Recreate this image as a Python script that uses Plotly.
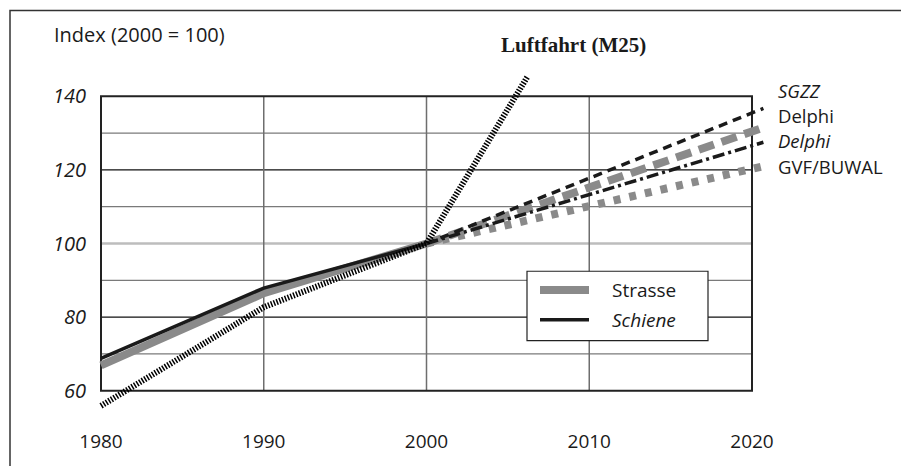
import plotly.graph_objects as go

# ---------------- data ----------------
hist_years = [1980, 1990, 2000]
strasse = [66.9, 86.5, 100]
schiene = [68.8, 87.9, 100]

luft_years = [1980, 1990, 2000, 2006.2]
luftfahrt = [55.9, 82.7, 100, 145.3]

fc_years = [2000, 2020.7]
sgzz_schiene = [100, 136.7]
delphi_strasse = [100, 131.5]
delphi_schiene = [100, 127.5]
gvf_strasse = [100, 121.0]

x_ticks = [1980, 1990, 2000, 2010, 2020]
y_ticks = [60, 80, 100, 120, 140]
grid_minor_y = [70, 90, 110, 130]
grid_major_y = [80, 120]
grid_x = [1990, 2000, 2010]

# ---------------- layout geometry ----------------
OFF = 8  # page body margin in the browser
FW, FH = 909 - OFF, 466 - OFF
ML, MR, MT, MB = 98 - OFF, 134, 69 - OFF, 52 - OFF
PW, PH = FW - ML - MR, FH - MT - MB
px_per_year = 16.275
px_per_unit = 3.7125
x0 = 1980 - (101 - OFF - ML) / px_per_year
x1 = x0 + PW / px_per_year
y1 = 140 + (96.5 - OFF - MT) / px_per_unit
y0 = y1 - PH / px_per_unit


def pxx(px):
    return (px - OFF - ML) / PW


def pxy(py):
    return (FH - MB - (py - OFF)) / PH


GRAY = "#8a8a8a"
BLACK = "#1a1a1a"
SANS = "Open Sans"

fig = go.Figure()

# Strasse (gray)
fig.add_trace(go.Scatter(x=hist_years, y=strasse, mode="lines", name="Strasse",
                         line=dict(color=GRAY, width=8), showlegend=False))
fig.add_trace(go.Scatter(x=fc_years, y=gvf_strasse, mode="lines", name="GVF/BUWAL",
                         line=dict(color=GRAY, width=8, dash="7px,9px"), showlegend=False))
fig.add_trace(go.Scatter(x=fc_years, y=delphi_strasse, mode="lines", name="Delphi",
                         line=dict(color=GRAY, width=8, dash="16px,8px"), showlegend=False))
# Schiene (black)
fig.add_trace(go.Scatter(x=hist_years, y=schiene, mode="lines", name="Schiene",
                         line=dict(color=BLACK, width=3.5), showlegend=False))
fig.add_trace(go.Scatter(x=fc_years, y=sgzz_schiene, mode="lines", name="SGZZ",
                         line=dict(color=BLACK, width=3.5, dash="9px,6px"), showlegend=False))
fig.add_trace(go.Scatter(x=fc_years, y=delphi_schiene, mode="lines", name="Delphi (Schiene)",
                         line=dict(color=BLACK, width=3.5, dash="12px,4px,3px,4px"), showlegend=False))
# Luftfahrt
fig.add_trace(go.Scatter(x=luft_years, y=luftfahrt, mode="lines", name="Luftfahrt (M25)",
                         line=dict(color="#000000", width=6, dash="1.5px,1.5px"), showlegend=False))

shapes = []
# gridlines
for v in grid_minor_y:
    shapes.append(dict(type="line", xref="x", yref="y", x0=1980, x1=2020, y0=v, y1=v,
                       line=dict(color="#7a7a7a", width=1.2), layer="below"))
for v in grid_major_y:
    shapes.append(dict(type="line", xref="x", yref="y", x0=1980, x1=2020, y0=v, y1=v,
                       line=dict(color="#111111", width=1.2), layer="below"))
shapes.append(dict(type="line", xref="x", yref="y", x0=1980, x1=2020, y0=100, y1=100,
                   line=dict(color="#bdbdbd", width=2.5), layer="below"))
for v in grid_x:
    shapes.append(dict(type="line", xref="x", yref="y", x0=v, x1=v, y0=60, y1=140,
                       line=dict(color="#6e6e6e", width=1.5), layer="below"))
# plot frame
shapes.append(dict(type="rect", xref="x", yref="y", x0=1980, x1=2020, y0=60, y1=140,
                   line=dict(color="#222222", width=2), layer="below"))
# outer frame
shapes.append(dict(type="rect", xref="paper", yref="paper",
                   x0=pxx(10), x1=pxx(902), y0=pxy(480), y1=pxy(10),
                   line=dict(color="#333333", width=1.5), layer="below"))
# legend box
shapes.append(dict(type="rect", xref="paper", yref="paper",
                   x0=pxx(527), x1=pxx(708), y0=pxy(343), y1=pxy(273),
                   line=dict(color="#222222", width=1.2), fillcolor="white", layer="above"))
shapes.append(dict(type="line", xref="paper", yref="paper",
                   x0=pxx(540), x1=pxx(589), y0=pxy(292), y1=pxy(292),
                   line=dict(color=GRAY, width=8), layer="above"))
shapes.append(dict(type="line", xref="paper", yref="paper",
                   x0=pxx(540), x1=pxx(589), y0=pxy(322), y1=pxy(322),
                   line=dict(color=BLACK, width=3.5), layer="above"))

annotations = []


def label(text, px, py, size=19, family=SANS, anchor="left"):
    annotations.append(dict(text=text, xref="paper", yref="paper", x=pxx(px), y=pxy(py),
                            xanchor=anchor, yanchor="middle", showarrow=False,
                            font=dict(family=family, size=size, color=BLACK)))


label("Index (2000 = 100)", 52, 34, size=20)
label("<b>Luftfahrt (M25)</b>", 499, 45, size=21, family="Liberation Serif")
label("<i>SGZZ</i>", 776, 91, size=18.5)
label("Delphi", 776, 116.3, size=18.5)
label("<i>Delphi</i>", 776, 141.6, size=18.5)
label("GVF/BUWAL", 776, 166.9, size=18.5)
label("Strasse", 610, 292)
label("<i>Schiene</i>", 610, 322)

fig.update_layout(
    width=FW, height=FH,
    margin=dict(l=ML, r=MR, t=MT, b=MB),
    paper_bgcolor="white", plot_bgcolor="white",
    shapes=shapes, annotations=annotations,
    showlegend=False,
    xaxis=dict(range=[x0, x1], tickvals=x_ticks, ticktext=[str(t) for t in x_ticks],
               showgrid=False, zeroline=False, showline=False, ticks="",
               ticklabelstandoff=9,
               tickfont=dict(family=SANS, size=19, color=BLACK)),
    yaxis=dict(range=[y0, y1], tickvals=y_ticks, ticktext=[str(t) for t in y_ticks],
               showgrid=False, zeroline=False, showline=False, ticks="",
               ticklabelstandoff=11,
               tickfont=dict(family=SANS, size=20, color=BLACK, style="italic")),
)

fig.write_html("out.html")
